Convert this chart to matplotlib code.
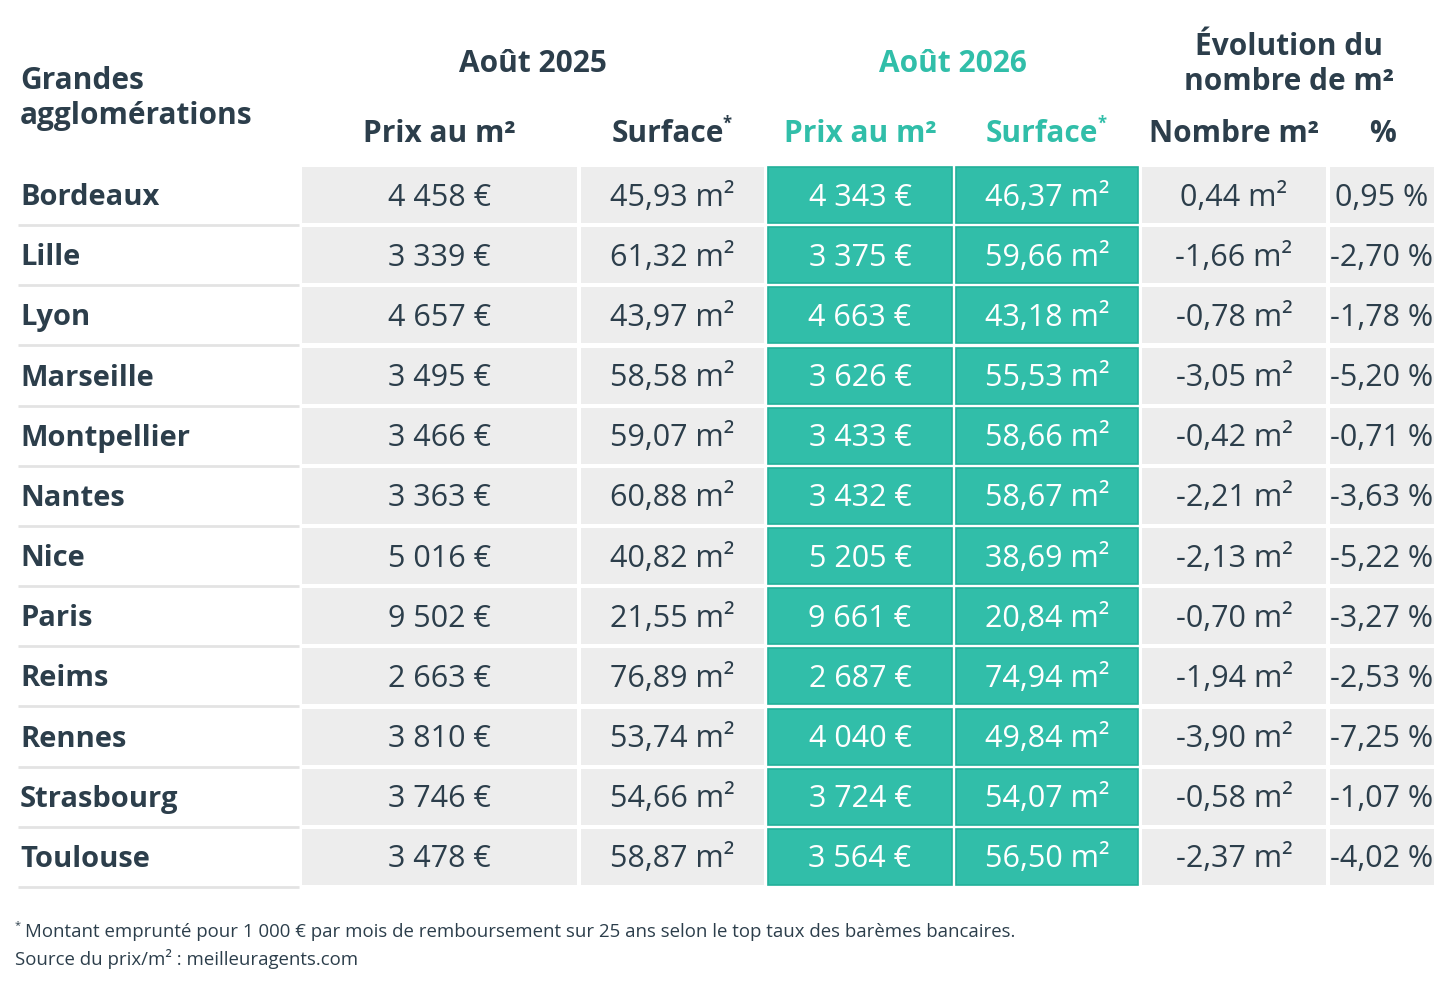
import matplotlib
matplotlib.use("Agg")
import matplotlib.pyplot as plt
from matplotlib.patches import Rectangle

cities = ["Bordeaux", "Lille", "Lyon", "Marseille", "Montpellier", "Nantes",
          "Nice", "Paris", "Reims", "Rennes", "Strasbourg", "Toulouse"]
prix_2025 = [4458, 3339, 4657, 3495, 3466, 3363, 5016, 9502, 2663, 3810, 3746, 3478]
surf_2025 = [45.93, 61.32, 43.97, 58.58, 59.07, 60.88, 40.82, 21.55, 76.89, 53.74, 54.66, 58.87]
prix_2026 = [4343, 3375, 4663, 3626, 3433, 3432, 5205, 9661, 2687, 4040, 3724, 3564]
surf_2026 = [46.37, 59.66, 43.18, 55.53, 58.66, 58.67, 38.69, 20.84, 74.94, 49.84, 54.07, 56.50]
evol_m2 = [0.44, -1.66, -0.78, -3.05, -0.42, -2.21, -2.13, -0.70, -1.94, -3.90, -0.58, -2.37]
evol_pct = [0.95, -2.70, -1.78, -5.20, -0.71, -3.63, -5.22, -3.27, -2.53, -7.25, -1.07, -4.02]

header_left = "Grandes\nagglomérations"
group_headers = ["Août 2025", "Août 2026", "Évolution du\nnombre de m²"]
sub_headers = ["Prix au m²", "Surface", "Prix au m²", "Surface", "Nombre m²", "%"]
footnote1 = "Montant emprunté pour 1 000 € par mois de remboursement sur 25 ans selon le top taux des barèmes bancaires."
footnote2 = "Source du prix/m² : meilleuragents.com"

DARK = "#2c3e4b"
TEAL = "#31bea9"
TEAL_EDGE = "#22b09a"
GRAY = "#ededed"
LINE = "#e3e3e3"
plt.rcParams["font.family"] = ["Open Sans", "DejaVu Sans"]


def fmt_int(v):
    return f"{v:,}".replace(",", " ") + " €"


def fmt_dec(v, unit):
    return f"{v:.2f}".replace(".", ",") + unit


fig = plt.figure(figsize=(14.56, 9.85), dpi=100)
ax = fig.add_axes([0, 0, 1, 1])
ax.set_xlim(0, 1456)
ax.set_ylim(985, 0)
ax.axis("off")

cols = [(302, 577), (581, 764), (768, 952), (956, 1138), (1142, 1326), (1330, 1434)]
row_top0 = 167
pitch = 60.18
row_h = 56

val_size = 22
head_size = 21.5
for i, city in enumerate(cities):
    top = row_top0 + i * pitch
    yc = top + row_h / 2
    ax.text(20, yc + 2.5, city, fontsize=21, fontweight="bold", color=DARK,
            ha="left", va="center")
    ax.plot([18, 299], [top + row_h + 2, top + row_h + 2], color=LINE, lw=2,
            solid_capstyle="butt")
    values = [fmt_int(prix_2025[i]), fmt_dec(surf_2025[i], " m²"),
              fmt_int(prix_2026[i]), fmt_dec(surf_2026[i], " m²"),
              fmt_dec(evol_m2[i], " m²"), fmt_dec(evol_pct[i], " %")]
    for j, (x0, x1) in enumerate(cols):
        teal = j in (2, 3)
        ax.add_patch(Rectangle((x0, top), x1 - x0, row_h,
                               facecolor=TEAL if teal else GRAY,
                               edgecolor=TEAL_EDGE if teal else "none",
                               lw=1.2 if teal else 0))
        ax.text((x0 + x1) / 2, yc + 2.5, values[j], fontsize=val_size,
                color="white" if teal else DARK, ha="center", va="center")

# headers
ax.text(20, 98.5, header_left, fontsize=head_size, fontweight="bold", color=DARK,
        ha="left", va="center", linespacing=1.24)
ax.text(533, 64, group_headers[0], fontsize=head_size, fontweight="bold", color=DARK,
        ha="center", va="center")
ax.text(953, 64, group_headers[1], fontsize=head_size, fontweight="bold", color=TEAL,
        ha="center", va="center")
ax.text(1289, 64.5, group_headers[2], fontsize=head_size, fontweight="bold", color=DARK,
        ha="center", va="center", linespacing=1.18)

fig.canvas.draw()
renderer = fig.canvas.get_renderer()
for j, (x0, x1) in enumerate(cols):
    color = TEAL if j in (2, 3) else DARK
    t = ax.text((x0 + x1) / 2, 133.5, sub_headers[j], fontsize=head_size, fontweight="bold",
                color=color, ha="center", va="center")
    if sub_headers[j] == "Surface":
        t.set_x((x0 + x1) / 2 - 5)
        bb = t.get_window_extent(renderer)
        xr = ax.transData.inverted().transform((bb.x1, bb.y1))[0]
        ax.text(xr - 1, 123.5, "*", fontsize=12, fontweight="bold", color=color,
                ha="left", va="center")

# footnotes
ax.text(15, 926, "*", fontsize=8, color=DARK, ha="left", va="center")
ax.text(25, 932, footnote1, fontsize=13.4, color=DARK, ha="left", va="center")
ax.text(15, 959, footnote2, fontsize=13.4, color=DARK, ha="left", va="center")

fig.savefig("out.png", dpi=100, facecolor="white")
